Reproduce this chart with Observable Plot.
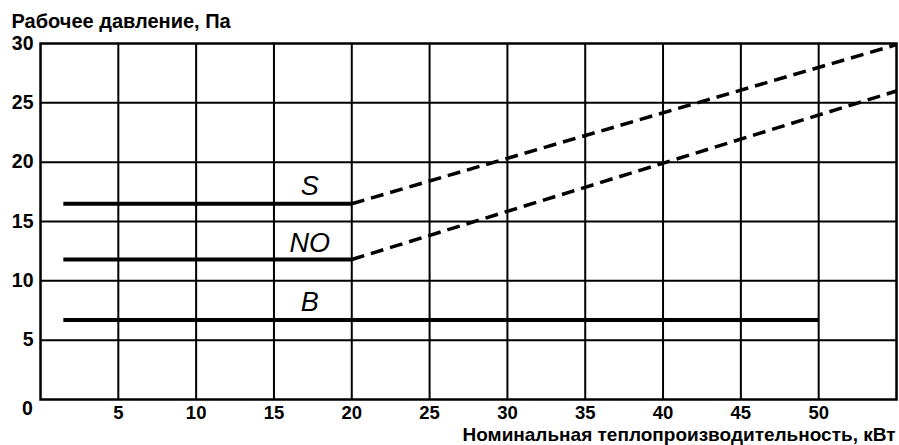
<!DOCTYPE html>
<html><head><meta charset="utf-8">
<script src="https://cdn.jsdelivr.net/npm/d3@7"></script>
<script src="https://cdn.jsdelivr.net/npm/@observablehq/plot@0.6"></script>
<style>body{margin:0;background:#fff}</style>
</head><body><div id="chart"></div>
<script>
// Data
const seriesNames = ["S", "NO", "B"];
const flatStartX = [1.5, 1.5, 1.5];
const flatEndX = [20, 20, 50];
const flatValue = [16.5, 11.8, 6.7];
const dashedNames = ["S", "NO"];
const dashedStartX = [20, 20];
const dashedStartValue = [16.5, 11.8];
const dashedEndX = [55, 55];
const dashedEndValue = [29.9, 26.0];
const labelX = [17.3, 17.3, 17.3];
const labelY = [17.95, 13.2, 8.2];
const xTicks = [5, 10, 15, 20, 25, 30, 35, 40, 45, 50];
const yTicks = [5, 10, 15, 20, 25, 30];
const xGrid = [5, 10, 15, 20, 25, 30, 35, 40, 45, 50];
const yGrid = [5, 10, 15, 20, 25];
const titleY = "Рабочее давление, Па";
const titleX = "Номинальная теплопроизводительность, кВт";

const flat = seriesNames.map((s, i) => ({s, x1: flatStartX[i], x2: flatEndX[i], y: flatValue[i]}));
const dashed = dashedNames.map((s, i) => ({s, x1: dashedStartX[i], y1: dashedStartValue[i], x2: dashedEndX[i], y2: dashedEndValue[i]}));
const labels = seriesNames.map((s, i) => ({s, x: labelX[i], y: labelY[i]}));

const font = "'Liberation Sans', Arial, Helvetica, sans-serif";
const chart = Plot.plot({
  width: 899, height: 445,
  marginLeft: 40, marginRight: 3, marginTop: 43, marginBottom: 46,
  style: {fontFamily: font, fontSize: "19px", fontWeight: "bold", background: "#fff", color: "#000"},
  x: {domain: [0, 55]},
  y: {domain: [0, 30]},
  marks: [
    Plot.gridX(xGrid, {stroke: "#000", strokeOpacity: 1, strokeWidth: 2}),
    Plot.gridY(yGrid, {stroke: "#000", strokeOpacity: 1, strokeWidth: 2}),
    Plot.frame({stroke: "#000", strokeWidth: 2.5}),
    Plot.axisY(yTicks, {tickSize: 0, tickPadding: 7, fontSize: 19.5, fontWeight: "bold", label: null}),
    Plot.axisX(xTicks, {tickSize: 0, tickPadding: 6, fontSize: 18.5, fontWeight: "bold", label: null}),
    Plot.text([0], {x: 0, y: 0, text: d => String(d), dx: -13, dy: 9, fontSize: 19.5, fontWeight: "bold", lineAnchor: "middle"}),
    Plot.ruleY(flat, {x1: "x1", x2: "x2", y: "y", stroke: "#000", strokeWidth: 4}),
    Plot.link(dashed, {x1: "x1", y1: "y1", x2: "x2", y2: "y2", stroke: "#000", strokeWidth: 3.5, strokeDasharray: "13,7"}),
    Plot.text(labels, {x: "x", y: "y", text: "s", fontSize: 27, fontStyle: "italic", fontWeight: "normal", lineAnchor: "middle"}),
    Plot.text([titleY], {frameAnchor: "top-left", text: d => d, dx: -29, dy: -22, textAnchor: "start", lineAnchor: "middle", fontSize: 20, fontWeight: "bold"}),
    Plot.text([titleX], {frameAnchor: "bottom-right", text: d => d, dx: -1, dy: 35, textAnchor: "end", lineAnchor: "middle", fontSize: 19, fontWeight: "bold"})
  ]
});
document.getElementById("chart").append(chart);
</script>
</body></html>
